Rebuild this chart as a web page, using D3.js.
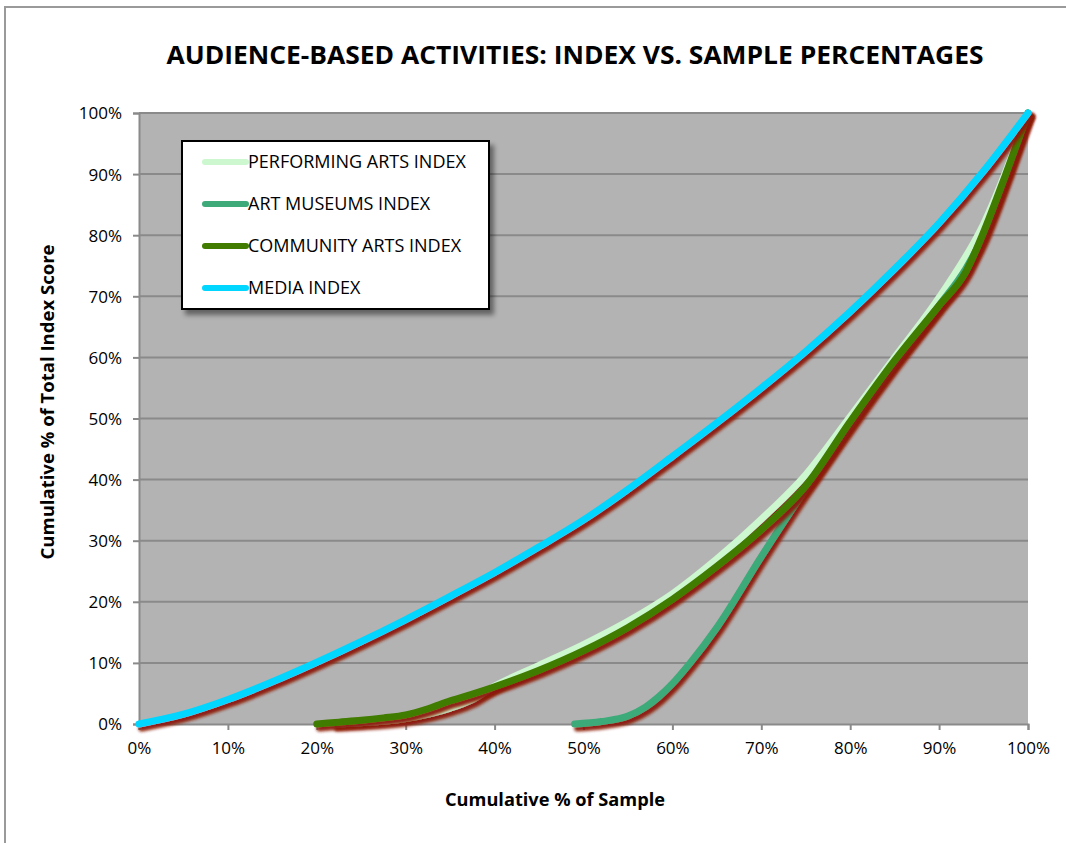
<!DOCTYPE html>
<html>
<head>
<meta charset="utf-8">
<script src="https://cdn.jsdelivr.net/npm/d3@7"></script>
<style>
  html, body { margin: 0; padding: 0; background: #fff; }
  svg { display: block; }
  text { font-family: "Open Sans", "DejaVu Sans", sans-serif; fill: #000; }
</style>
</head>
<body>
<svg id="chart" width="1066" height="843"></svg>
<script>
// ---- Data (cumulative % of sample -> cumulative % of total index score) ----
const title = "AUDIENCE-BASED ACTIVITIES: INDEX VS. SAMPLE PERCENTAGES";
const xAxisTitle = "Cumulative % of Sample";
const yAxisTitle = "Cumulative % of Total Index Score";
const seriesNames = ["PERFORMING ARTS INDEX", "ART MUSEUMS INDEX", "COMMUNITY ARTS INDEX", "MEDIA INDEX"];
const seriesColors = ["#ccf7cf", "#3eaa79", "#417b00", "#00d6ff"];
const xTicks = [0, 10, 20, 30, 40, 50, 60, 70, 80, 90, 100];
const yTicks = [0, 10, 20, 30, 40, 50, 60, 70, 80, 90, 100];

const performingX = [22, 25, 30, 35, 37.5, 40, 45, 50, 55, 60, 65, 70, 75, 80, 85, 90, 95, 100];
const performingY = [0, 0.2, 0.9, 2.6, 4.0, 6.2, 9.6, 13.0, 16.8, 21.3, 27.0, 33.5, 40.8, 50.3, 60.0, 69.8, 81.8, 100];

const museumsX = [49, 52, 55, 57, 58.5, 60, 62, 65, 70, 75, 80, 85, 90, 93, 95, 97.5, 100];
const museumsY = [0, 0.4, 1.3, 2.8, 4.5, 6.6, 10.0, 15.8, 27.4, 38.5, 49.0, 59.0, 68.5, 74.5, 80.0, 89.5, 100];

const communityX = [20, 22.5, 25, 27.5, 30, 32.5, 35, 37.5, 40, 45, 50, 55, 60, 65, 70, 75, 80, 85, 90, 93, 95, 97.5, 100];
const communityY = [0, 0.3, 0.6, 1.0, 1.5, 2.5, 3.8, 4.9, 6.1, 8.8, 12.0, 15.8, 20.4, 25.8, 31.8, 39.0, 49.5, 59.5, 68.5, 74.0, 80.5, 90.0, 100];

const mediaX = [0, 5, 10, 15, 20, 25, 30, 35, 40, 45, 50, 55, 60, 65, 70, 75, 80, 85, 90, 95, 100];
const mediaY = [0, 1.6, 4.0, 6.9, 10.1, 13.5, 17.1, 20.9, 24.8, 29.0, 33.4, 38.4, 43.8, 49.3, 55.0, 61.0, 67.5, 74.5, 82.0, 90.5, 100];

const seriesX = [performingX, museumsX, communityX, mediaX];
const seriesY = [performingY, museumsY, communityY, mediaY];

// ---- Layout ----
const svg = d3.select("#chart");
const plot = { left: 139, right: 1028, top: 113, bottom: 724 };

const x = d3.scaleLinear().domain([0, 100]).range([plot.left, plot.right]);
const y = d3.scaleLinear().domain([0, 100]).range([plot.bottom, plot.top]);

const defs = svg.append("defs");
const sh = defs.append("filter").attr("id", "redShadow")
  .attr("x", "-10%").attr("y", "-10%").attr("width", "130%").attr("height", "130%");
sh.append("feGaussianBlur").attr("in", "SourceAlpha").attr("stdDeviation", 1.7).attr("result", "b");
sh.append("feOffset").attr("in", "b").attr("dx", 3).attr("dy", 3.5).attr("result", "o");
sh.append("feFlood").attr("flood-color", "#8c1a08").attr("flood-opacity", 0.95).attr("result", "c");
sh.append("feComposite").attr("in", "c").attr("in2", "o").attr("operator", "in").attr("result", "s");
const m1 = sh.append("feMerge");
m1.append("feMergeNode").attr("in", "s");
m1.append("feMergeNode").attr("in", "SourceGraphic");

const lsh = defs.append("filter").attr("id", "legendShadow")
  .attr("x", "-10%").attr("y", "-10%").attr("width", "130%").attr("height", "130%");
lsh.append("feGaussianBlur").attr("in", "SourceAlpha").attr("stdDeviation", 2.5).attr("result", "b");
lsh.append("feOffset").attr("in", "b").attr("dx", 4).attr("dy", 5).attr("result", "o");
lsh.append("feFlood").attr("flood-color", "#000").attr("flood-opacity", 0.45).attr("result", "c");
lsh.append("feComposite").attr("in", "c").attr("in2", "o").attr("operator", "in").attr("result", "s");
const m2 = lsh.append("feMerge");
m2.append("feMergeNode").attr("in", "s");
m2.append("feMergeNode").attr("in", "SourceGraphic");

// outer frame
svg.append("rect").attr("x", 5).attr("y", 7).attr("width", 1100).attr("height", 900)
  .attr("fill", "none").attr("stroke", "#9a9a9a").attr("stroke-width", 2);

// title
svg.append("text").attr("x", 575).attr("y", 64).attr("text-anchor", "middle")
  .attr("font-size", 25).attr("font-weight", "bold")
  .attr("textLength", 817).attr("lengthAdjust", "spacingAndGlyphs").text(title);

// plot background
svg.append("rect").attr("x", plot.left).attr("y", plot.top)
  .attr("width", plot.right - plot.left).attr("height", plot.bottom - plot.top)
  .attr("fill", "#b3b3b3");

// gridlines
svg.append("g").selectAll("line").data(yTicks.filter(d => d > 0)).join("line")
  .attr("x1", plot.left).attr("x2", plot.right)
  .attr("y1", d => y(d)).attr("y2", d => y(d))
  .attr("stroke", "#8a8a8a").attr("stroke-width", 2);

// axes
const yAxis = d3.axisLeft(y).tickValues(yTicks).tickFormat(d => d + "%").tickSize(6).tickPadding(11);
const xAxis = d3.axisBottom(x).tickValues(xTicks).tickFormat(d => d + "%").tickSize(6).tickPadding(12);

const gy = svg.append("g").attr("transform", `translate(${plot.left},0)`).call(yAxis);
const gx = svg.append("g").attr("transform", `translate(0,${plot.bottom})`).call(xAxis);
[gx, gy].forEach(g => {
  g.select(".domain").attr("stroke", "#8a8a8a").attr("stroke-width", 2);
  g.selectAll(".tick line").attr("stroke", "#8a8a8a").attr("stroke-width", 2);
  g.selectAll(".tick text").attr("font-family", "'Open Sans', 'DejaVu Sans', sans-serif")
    .attr("font-size", 17).attr("fill", "#000");
});
gy.selectAll(".tick text").attr("dy", "0.35em");

// axis titles
svg.append("text").attr("x", 555).attr("y", 806).attr("text-anchor", "middle")
  .attr("font-size", 18).attr("font-weight", "bold")
  .attr("textLength", 220).attr("lengthAdjust", "spacingAndGlyphs").text(xAxisTitle);
svg.append("text").attr("transform", "translate(54,402) rotate(-90)").attr("text-anchor", "middle")
  .attr("font-size", 18).attr("font-weight", "bold")
  .attr("textLength", 315).attr("lengthAdjust", "spacingAndGlyphs").text(yAxisTitle);

// series lines
const line = d3.line().x(d => x(d[0])).y(d => y(d[1])).curve(d3.curveMonotoneX);
const lineG = svg.append("g");
seriesNames.forEach((name, i) => {
  const pts = seriesX[i].map((v, j) => [v, seriesY[i][j]]);
  lineG.append("path").datum(pts)
    .attr("d", line)
    .attr("fill", "none")
    .attr("stroke", seriesColors[i])
    .attr("stroke-width", 7)
    .attr("stroke-linecap", "round")
    .attr("stroke-linejoin", "round")
    .attr("filter", "url(#redShadow)");
});

// legend
const lg = svg.append("g");
lg.append("rect").attr("x", 182).attr("y", 141).attr("width", 307).attr("height", 168)
  .attr("fill", "#fff").attr("stroke", "#000").attr("stroke-width", 2)
  .attr("filter", "url(#legendShadow)");
const rowY = [162, 204, 246, 288];
seriesNames.forEach((name, i) => {
  lg.append("line").attr("x1", 205).attr("x2", 246).attr("y1", rowY[i]).attr("y2", rowY[i])
    .attr("stroke", seriesColors[i]).attr("stroke-width", 6).attr("stroke-linecap", "round");
  lg.append("text").attr("x", 248).attr("y", rowY[i]).attr("dy", "0.36em")
    .attr("font-size", 18).text(name);
});
</script>
</body>
</html>
